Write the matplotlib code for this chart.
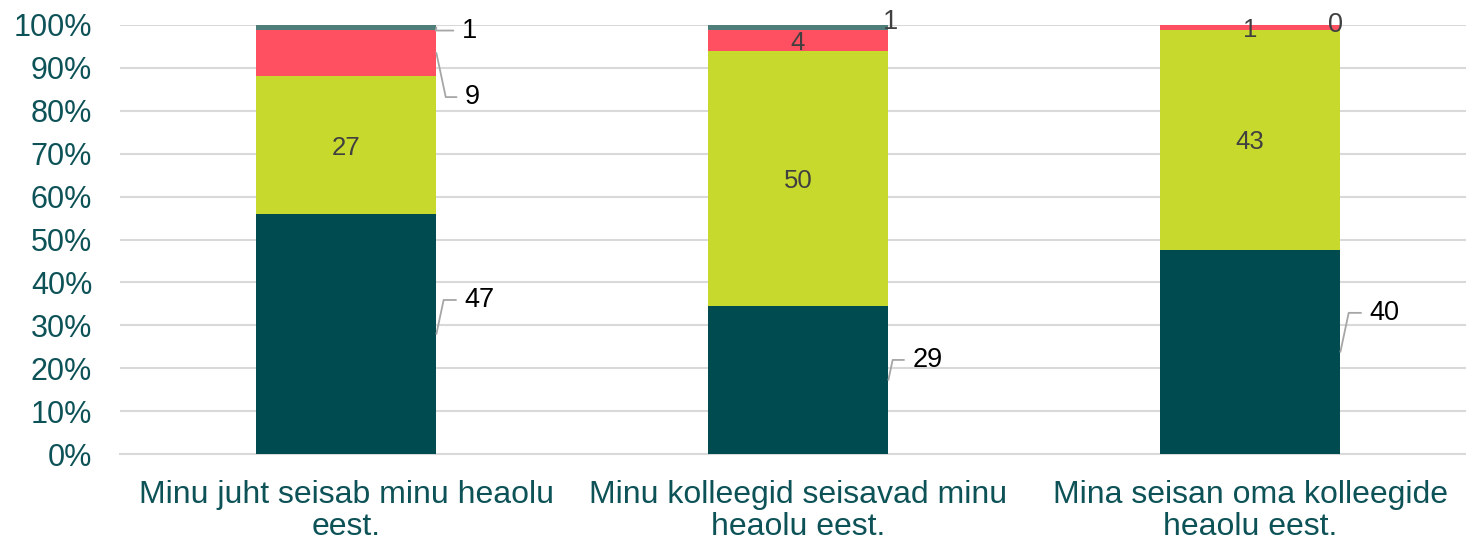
import matplotlib
matplotlib.use("Agg")
import matplotlib.pyplot as plt
import numpy as np

categories = ["Minu juht seisab minu heaolu\neest.",
              "Minu kolleegid seisavad minu\nheaolu eest.",
              "Mina seisan oma kolleegide\nheaolu eest."]
s1 = [47, 29, 40]   # dark teal
s2 = [27, 50, 43]   # yellow-green
s3 = [9, 4, 1]      # red
s4 = [1, 1, 0]      # grey-teal
yticks = [0, 10, 20, 30, 40, 50, 60, 70, 80, 90, 100]

colors = ["#004B50", "#C8D92E", "#FF5061", "#4E7D7A"]
series = [s1, s2, s3, s4]

plt.rcParams['font.family'] = ['Liberation Sans', 'DejaVu Sans']
W, H = 1466, 542
fig = plt.figure(figsize=(W/100, H/100), dpi=100)
ax = fig.add_axes([120/W, (H-454)/H, (W-120)/W, (454-25)/H])

totals = np.sum(np.array(series), axis=0)
pct = [np.array(s) / totals * 100 for s in series]
x = np.arange(len(categories))
bw = 0.40
bottom = np.zeros(len(categories))
bottoms = []
for p, c in zip(pct, colors):
    ax.bar(x, p, bw, bottom=bottom, color=c, zorder=3, edgecolor='none')
    bottoms.append(bottom.copy())
    bottom = bottom + p

ax.set_xlim(-0.5, (W - 346) / 452)
ax.set_ylim(0, 100)
ax.set_yticks(yticks)
ax.set_yticklabels([f"{v}%" for v in yticks])
ax.set_xticks(x)
ax.set_xticklabels(categories, linespacing=1.08)
ax.tick_params(axis='y', length=0, pad=20, labelsize=22, labelcolor="#0D5257")
ax.tick_params(axis='x', length=0, pad=19, labelsize=23, labelcolor="#0D5257")
ax.grid(axis='y', color="#D9D9D9", lw=1.5, zorder=0)
for sp in ['top', 'right', 'left']:
    ax.spines[sp].set_visible(False)
ax.spines['bottom'].set_color("#D9D9D9")
ax.spines['bottom'].set_linewidth(1.5)

# label placement style: (series index, category index) -> (dx_px, dy_px)
outside = {
    (0, 0): (43, 37), (0, 1): (39, 23), (0, 2): (44, 42),
    (2, 0): (36, -41), (3, 0): (33, 0),
}
free = {(3, 1): (92, 9), (3, 2): (85, 3)}
lead_color = "#A6A6A6"
for si in range(len(series)):
    for ci in range(len(categories)):
        val = series[si][ci]
        yc = bottoms[si][ci] + pct[si][ci] / 2
        if (si, ci) in outside:
            dx, dy = outside[(si, ci)]
            angB = 78 if dy >= 0 else 102
            ax.annotate(str(val), xy=(x[ci] + bw/2, yc), xytext=(dx, dy),
                        textcoords='offset pixels', ha='center', va='center_baseline',
                        fontsize=19.5, color="#000000", zorder=5,
                        arrowprops=dict(arrowstyle='-', color=lead_color, lw=1.3,
                                        shrinkA=4, shrinkB=0,
                                        connectionstyle=f"angle,angleA=0,angleB={angB},rad=0"))
        elif (si, ci) in free:
            dx, dy = free[(si, ci)]
            ax.annotate(str(val), xy=(x[ci], yc), xytext=(dx, dy),
                        textcoords='offset pixels', ha='center', va='center_baseline',
                        fontsize=19.5, color="#404040", zorder=5)
        else:
            ax.text(x[ci], yc, str(val), ha='center', va='center_baseline',
                    fontsize=18.5, color="#404040", zorder=5)

fig.savefig("out.png", dpi=100)
